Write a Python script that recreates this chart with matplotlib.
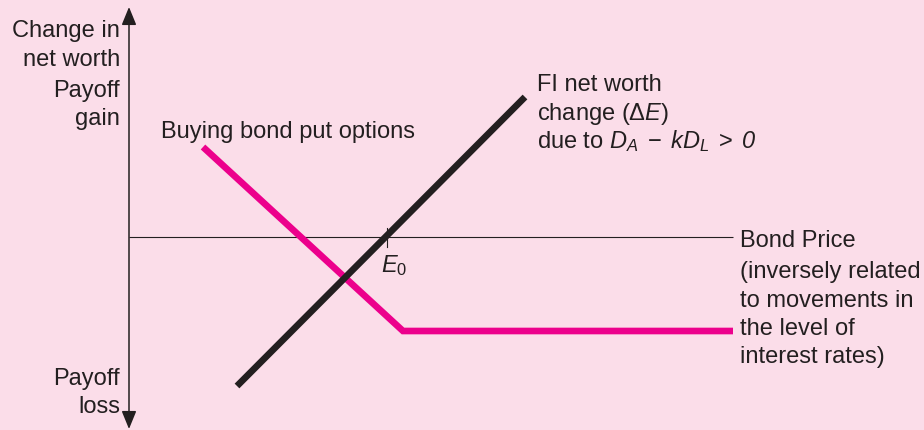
import matplotlib
matplotlib.use("Agg")
import matplotlib.pyplot as plt

# ---- data (x: bond price, y: change in net worth / payoff), origin at axes crossing ----
bond_price_fi = [108, 396]
fi_net_worth_change = [-149, 140]

bond_price_put = [74, 274, 604]
put_payoff = [90, -94, -94]

E0 = 258
axis_x_end = 604

BG = "#FBDDE9"
INK = "#231F20"
MAGENTA = "#EC008C"

plt.rcParams["font.family"] = ["Liberation Sans", "DejaVu Sans"]
plt.rcParams["mathtext.fontset"] = "custom"
plt.rcParams["mathtext.rm"] = "Liberation Sans"
plt.rcParams["mathtext.it"] = "Liberation Sans:italic"
plt.rcParams["mathtext.sf"] = "Liberation Sans:italic"
plt.rcParams["mathtext.bf"] = "Liberation Sans:bold"

fig = plt.figure(figsize=(9.24, 4.31), dpi=100, facecolor=BG)
ax = fig.add_axes([0, 0, 1, 1])
ax.set_facecolor(BG)
ax.set_xlim(-129, 795)
ax.set_ylim(-193, 238)
ax.axis("off")

FS = 17

# axes
ax.annotate("", xy=(0, 230), xytext=(0, -192),
            arrowprops=dict(arrowstyle="<|-|>,head_length=1.1,head_width=0.45",
                            mutation_scale=10, lw=1.1, color=INK,
                            shrinkA=0, shrinkB=0))
ax.plot([0, axis_x_end], [0, 0], color=INK, lw=0.8, solid_capstyle="butt")
ax.plot([E0, E0], [9, -10], color=INK, lw=0.8)

# series
ax.plot(bond_price_put, put_payoff, color=MAGENTA, lw=4.8,
        solid_capstyle="butt", solid_joinstyle="miter")
ax.plot(bond_price_fi, fi_net_worth_change, color=INK, lw=4.8,
        solid_capstyle="butt")

# y-axis labels
for txt, yb in [("Change in", 201), ("net worth", 172), ("Payoff", 141), ("gain", 113)]:
    ax.text(-9, yb, txt, ha="right", va="baseline", fontsize=FS, color=INK)
for txt, yb in [("Payoff", -147), ("loss", -175)]:
    ax.text(-9, yb, txt, ha="right", va="baseline", fontsize=FS, color=INK)

ax.text(32, 100, "Buying bond put options", ha="left", va="baseline",
        fontsize=FS, color=INK)

for txt, yb in [("FI net worth", 147), ("change (Δ$E$)", 118),
                (r"due to $D_A\;-\;kD_L\;>\;\mathsf{0}$", 90)]:
    ax.text(408, yb, txt, ha="left", va="baseline", fontsize=FS, color=INK)

ax.text(252, -34, "$E_0$", ha="left", va="baseline", fontsize=FS, color=INK)

for txt, yb in [("Bond Price", -9), ("(inversely related", -40),
                ("to movements in", -69), ("the level of", -97),
                ("interest rates)", -125)]:
    ax.text(611, yb, txt, ha="left", va="baseline", fontsize=FS, color=INK)

fig.savefig("out.png", dpi=100, facecolor=BG)
